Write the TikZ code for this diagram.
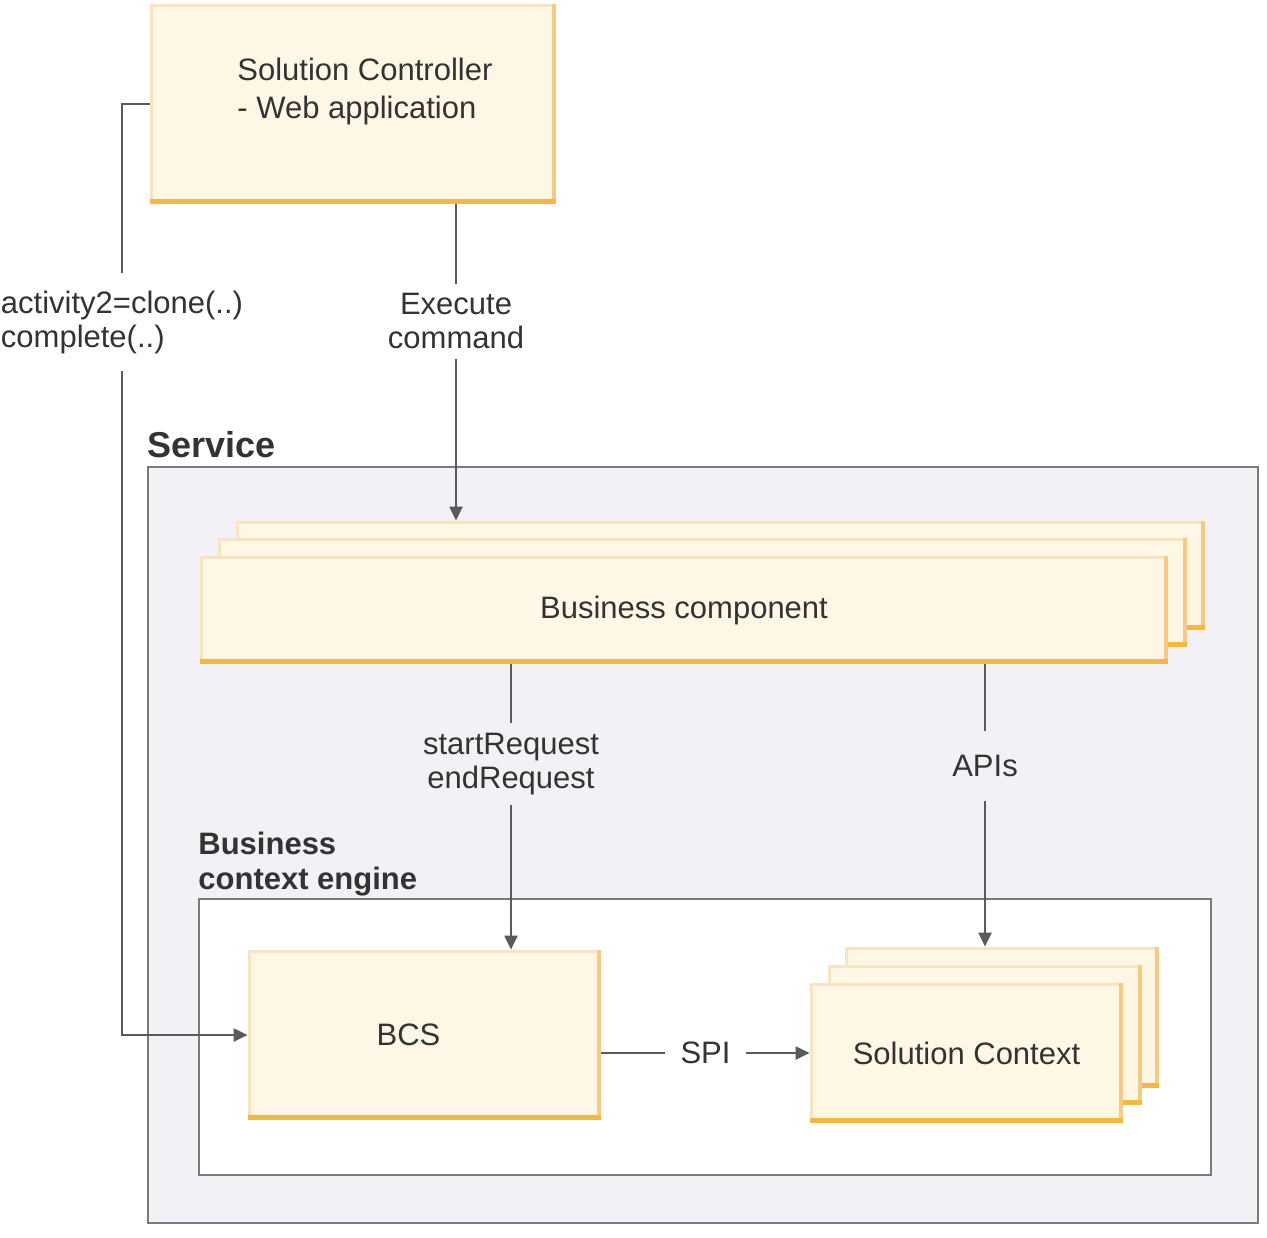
\documentclass[tikz,border=0pt]{standalone}
\usepackage{fontspec}
\setmainfont{Liberation Sans}
\usepackage{xcolor}
\usepackage{tikz}
\usetikzlibrary{arrows.meta,calc,positioning,fit}

\definecolor{boxfill}{HTML}{FFF7E6}
\definecolor{boxedge}{HTML}{F9E4C2}
\definecolor{boxright}{HTML}{F6CB80}
\definecolor{boxbottom}{HTML}{F5B83F}
\definecolor{servfill}{HTML}{F2F2F6}
\definecolor{framegray}{HTML}{7A7A7A}
\definecolor{linegray}{HTML}{5A5A5A}
\definecolor{txt}{HTML}{333333}

\begin{document}
\begin{tikzpicture}[x=0.5pt,y=-0.5pt,
	arrow/.style = {line width=1.1pt,draw=linegray,-{Triangle[length=7pt,width=6.5pt]}}]
					\tikzset{comp/.style={inner sep=0pt,fill=boxfill,
						path picture={
							\fill[boxedge] (path picture bounding box.north west) rectangle ([yshift=-1.5pt]path picture bounding box.north east);
							\fill[boxedge] (path picture bounding box.north west) rectangle ([xshift=1.5pt]path picture bounding box.south west);
							\fill[boxright] ([xshift=-2pt]path picture bounding box.north east) rectangle (path picture bounding box.south east);
							\fill[boxbottom] (path picture bounding box.south west) rectangle ([yshift=2.5pt]path picture bounding box.south east);}}}
					\tikzset{comptext/.style={text=txt,inner sep=0pt,font=\fontsize{15.5}{19}\selectfont}}
					\tikzset{frame/.style={draw=framegray,line width=1pt,inner sep=0pt}}
					\tikzset{lbl/.style={fill=white,text=txt,font=\fontsize{15.5}{17}\selectfont,align=center,inner xsep=2pt,inner ysep=5pt}}
					\tikzset{title/.style={text=txt,inner sep=0pt,align=left,font=\fontsize{15.5}{17.5}\selectfont\bfseries}}

					\useasboundingbox (0,0) rectangle (1267,1237);

					% Marcos
					\node[frame, fill=servfill, fit={(148,467) (1258,1223)}] (service) {};
					\node[title, font=\fontsize{18}{21}\selectfont\bfseries, anchor=base west] (servicelbl) at ([yshift=4.5pt]service.north west) {Service};
					\node[frame, fill=white, fit={(199,899) (1211,1175)}] (bce) {};
					\node[title, anchor=south west] (bcelbl) at ([yshift=1pt]bce.north west) {Business\\context engine};

					% Cajas
					\node[comp, fit={(150,4) (556,204)}] (ctrl) {};
					\node[comptext, align=left, anchor=west] (ctrllbl) at (237,91) {Solution Controller\\- Web application};

					\node[comp, fit={(236,521) (1205,630)}] (bcb) {};
					\node[comp, fit={(218,538) (1187,647)}] (bcm) {};
					\node[comp, fit={(200,556) (1168,664)}, label={[comptext]center:Business component}] (bcf) {};

					\node[comp, fit={(248,950) (601,1120)}, label={[comptext, xshift=-8pt]center:BCS}] (bcs) {};

					\node[comp, fit={(845,947) (1159,1088)}] (scb) {};
					\node[comp, fit={(828,965) (1142,1105)}] (scm) {};
					\node[comp, fit={(810,983) (1123,1123)}, label={[comptext]center:Solution Context}] (scf) {};

					% Conectores
					\coordinate (excol) at (456,0);
					\coordinate (reqcol) at (511,0);
					\coordinate (apicol) at (985,0);
					\coordinate (clonecol) at (122,322);

					\draw [arrow] (ctrl.west) -| (clonecol) node [lbl, align=left, inner ysep=9pt] {activity2=clone(..)\\complete(..)} |- (bcs.west);
					\draw [arrow] (excol |- ctrl.south) -- node [lbl, pos=0.37] {Execute\\command} (excol |- bcb.north);
					\draw [arrow] (reqcol |- bcf.south) -- node [lbl, fill=servfill, pos=0.35] {startRequest\\endRequest} (reqcol |- bcs.north);
					\draw [arrow] (apicol |- bcf.south) -- node [lbl, fill=servfill, pos=0.36, inner ysep=12pt] {APIs} (apicol |- scb.north);
					\draw [arrow] (bcs.east |- scf.west) -- node [lbl, inner xsep=8pt] {SPI} (scf.west);

				\end{tikzpicture}
\end{document}
